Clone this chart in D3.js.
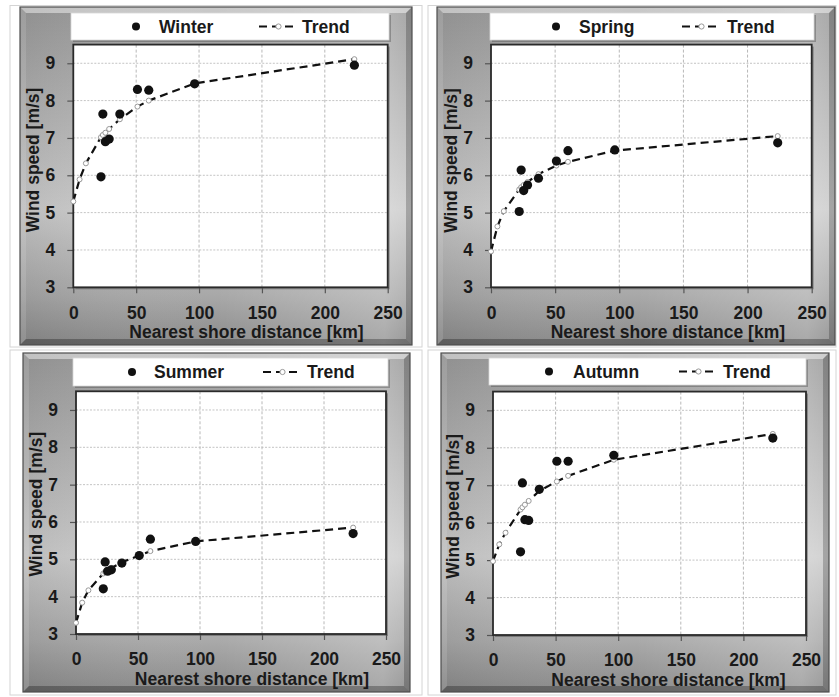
<!DOCTYPE html>
<html><head><meta charset="utf-8">
<script src="https://cdn.jsdelivr.net/npm/d3@7"></script>
<style>
html,body{margin:0;padding:0;background:#fff;}
svg{display:block;}
text{font-family:"Liberation Sans",Arial,sans-serif;font-weight:bold;fill:#1a1a1a;}
</style></head>
<body>
<svg id="chart" width="839" height="697"></svg>
<script>
// ---- data ----
const seasons = ["Winter", "Spring", "Summer", "Autumn"];
const stationKm = [22, 23.5, 25.5, 28.5, 37, 51, 60, 96.5, 223.5];
const winterObs = [5.96, 7.64, 6.90, 6.97, 7.64, 8.30, 8.28, 8.45, 8.95];
const springObs = [5.03, 6.14, 5.59, 5.74, 5.92, 6.38, 6.66, 6.68, 6.87];
const summerObs = [4.21, 4.93, 4.68, 4.72, 4.90, 5.10, 5.54, 5.48, 5.69];
const autumnObs = [5.22, 7.06, 6.08, 6.06, 6.89, 7.64, 7.64, 7.80, 8.26];
const trendKm = [0, 5, 10, 22, 23.5, 25.5, 28.5, 37, 51, 60, 96.5, 223.5];
const winterTrend = [5.30, 5.89, 6.32, 7.02, 7.08, 7.14, 7.24, 7.50, 7.84, 8.00, 8.46, 9.11];
const springTrend = [3.96, 4.63, 5.04, 5.62, 5.68, 5.74, 5.82, 6.03, 6.26, 6.36, 6.66, 7.05];
const summerTrend = [3.30, 3.84, 4.17, 4.62, 4.66, 4.71, 4.77, 4.92, 5.10, 5.22, 5.48, 5.85];
const autumnTrend = [4.97, 5.42, 5.73, 6.35, 6.41, 6.48, 6.58, 6.85, 7.10, 7.25, 7.68, 8.37];
const xTicks = [0, 50, 100, 150, 200, 250];
const yTicks = [3, 4, 5, 6, 7, 8, 9];
const xLabel = "Nearest shore distance [km]";
const yLabel = "Wind speed [m/s]";
const trendLabel = "Trend";

const obsBySeason = [winterObs, springObs, summerObs, autumnObs];
const trendBySeason = [winterTrend, springTrend, summerTrend, autumnTrend];

// ---- layout ----
const cells = [
  {x: 10, y: 5.5, w: 412, h: 341.5},
  {x: 428, y: 5.5, w: 408, h: 341.5},
  {x: 10, y: 350, w: 412, h: 345},
  {x: 428, y: 350, w: 408, h: 345}
];
const frames = [
  {x: 20, y: 7, w: 392, h: 338},
  {x: 437, y: 7, w: 398, h: 338},
  {x: 23, y: 353, w: 387, h: 339},
  {x: 441, y: 353, w: 388, h: 339}
];
const plots = [
  {x: 73.3, y: 44.6, w: 314.4, h: 242.7, tx: 16, ty: -6},
  {x: 491, y: 44.6, w: 320.7, h: 242.7, tx: 16.5, ty: -5.5},
  {x: 76, y: 391.3, w: 310, h: 242.7, tx: 21, ty: -8.5},
  {x: 493, y: 391.6, w: 313, h: 243.4, tx: 19, ty: -7}
];
const legends = [
  {x: 71, y: 13, w: 318, h: 27, dot: 65, txt: 88, dash: 188, trend: 231},
  {x: 490, y: 13, w: 324, h: 27, dot: 66, txt: 89, dash: 192, trend: 237},
  {x: 73, y: 358, w: 315, h: 28, dot: 59, txt: 81, dash: 190, trend: 234},
  {x: 489, y: 358, w: 317, h: 27, dot: 60, txt: 84, dash: 190, trend: 234}
];

const svg = d3.select("#chart");
const defs = svg.append("defs");
const g1 = defs.append("linearGradient").attr("id", "frameGrad").attr("x1", 0).attr("y1", 0).attr("x2", 0).attr("y2", 1);
[[0, "#9b9b9b"], [0.3, "#b4b4b4"], [0.6, "#cdcdcd"], [0.85, "#a9a9a9"], [1, "#8a8a8a"]]
  .forEach(([o, c]) => g1.append("stop").attr("offset", o).attr("stop-color", c));
const g2 = defs.append("linearGradient").attr("id", "frameGradH").attr("x1", 0).attr("y1", 0).attr("x2", 1).attr("y2", 0);
[[0, "rgba(0,0,0,0.08)"], [0.5, "rgba(255,255,255,0)"], [0.93, "rgba(255,255,255,0.25)"], [1, "rgba(255,255,255,0.1)"]]
  .forEach(([o, c]) => g2.append("stop").attr("offset", o).attr("stop-color", c));

// table cell borders
cells.forEach(c => {
  svg.append("rect").attr("x", c.x).attr("y", c.y).attr("width", c.w).attr("height", c.h)
    .attr("fill", "none").attr("stroke", "#d4d4d4").attr("stroke-width", 1);
});

seasons.forEach((season, i) => {
  const f = frames[i], p = plots[i], L = legends[i];
  const g = svg.append("g");

  // frame
  g.append("rect").attr("x", f.x).attr("y", f.y).attr("width", f.w).attr("height", f.h)
    .attr("fill", "url(#frameGrad)");
  g.append("rect").attr("x", f.x).attr("y", f.y).attr("width", f.w).attr("height", f.h)
    .attr("fill", "url(#frameGradH)");
  const b = 6;
  const x0 = f.x, y0 = f.y, x1 = f.x + f.w, y1 = f.y + f.h;
  const bevel = [
    {pts: [[x0, y0], [x1, y0], [x1 - b, y0 + b], [x0 + b, y0 + b]], fill: "rgba(255,255,255,0.45)"},
    {pts: [[x0, y0], [x0 + b, y0 + b], [x0 + b, y1 - b], [x0, y1]], fill: "rgba(255,255,255,0.12)"},
    {pts: [[x1, y0], [x1, y1], [x1 - b, y1 - b], [x1 - b, y0 + b]], fill: "rgba(0,0,0,0.22)"},
    {pts: [[x0, y1], [x0 + b, y1 - b], [x1 - b, y1 - b], [x1, y1]], fill: "rgba(0,0,0,0.28)"}
  ];
  bevel.forEach(bv => g.append("polygon").attr("points", bv.pts.map(d => d.join(",")).join(" ")).attr("fill", bv.fill));
  g.append("rect").attr("x", f.x).attr("y", f.y).attr("width", f.w).attr("height", f.h)
    .attr("fill", "none").attr("stroke", "#4d4d4d").attr("stroke-width", 1.2);

  // legend box
  g.append("rect").attr("x", L.x + 2).attr("y", L.y + 2).attr("width", L.w).attr("height", L.h)
    .attr("fill", "rgba(60,60,60,0.35)");
  g.append("rect").attr("x", L.x).attr("y", L.y).attr("width", L.w).attr("height", L.h)
    .attr("fill", "#fff").attr("stroke", "#d8d8d8").attr("stroke-width", 0.8);
  const ly = L.y + L.h / 2;
  g.append("circle").attr("cx", L.x + L.dot).attr("cy", ly).attr("r", 4).attr("fill", "#111");
  g.append("text").attr("x", L.x + L.txt).attr("y", ly).attr("dominant-baseline", "central")
    .attr("font-size", 17.5).text(season);
  g.append("line").attr("x1", L.x + L.dash).attr("x2", L.x + L.dash + 39).attr("y1", ly).attr("y2", ly)
    .attr("stroke", "#111").attr("stroke-width", 2.2).attr("stroke-dasharray", "8,5");
  g.append("circle").attr("cx", L.x + L.dash + 19.5).attr("cy", ly).attr("r", 2.6)
    .attr("fill", "#fff").attr("stroke", "#999").attr("stroke-width", 1);
  g.append("text").attr("x", L.x + L.trend).attr("y", ly).attr("dominant-baseline", "central")
    .attr("font-size", 17.5).text(trendLabel);

  // scales
  const x = d3.scaleLinear().domain([0, 250]).range([p.x, p.x + p.w]);
  const y = d3.scaleLinear().domain([3, 9.5]).range([p.y + p.h, p.y]);

  // plot area
  g.append("rect").attr("x", p.x + 2).attr("y", p.y + 2).attr("width", p.w).attr("height", p.h)
    .attr("fill", "rgba(40,40,40,0.35)");
  g.append("rect").attr("x", p.x).attr("y", p.y).attr("width", p.w).attr("height", p.h).attr("fill", "#fff");

  // grid
  g.append("g").selectAll("line").data(yTicks.filter(t => t > 3)).join("line")
    .attr("x1", p.x).attr("x2", p.x + p.w).attr("y1", d => y(d)).attr("y2", d => y(d))
    .attr("stroke", "#c4c4c4").attr("stroke-width", 1).attr("stroke-dasharray", "2,1.5");
  g.append("g").selectAll("line").data(xTicks.filter(t => t > 0 && t < 250)).join("line")
    .attr("x1", d => x(d)).attr("x2", d => x(d)).attr("y1", p.y).attr("y2", p.y + p.h)
    .attr("stroke", "#b8b8b8").attr("stroke-width", 1).attr("stroke-dasharray", "3,2");

  // axes
  const xAxis = d3.axisBottom(x).tickValues(xTicks).tickSize(6).tickPadding(13).tickFormat(d3.format("d"));
  const yAxis = d3.axisLeft(y).tickValues(yTicks).tickSize(6).tickPadding(12).tickFormat(d3.format("d"));
  const gx = g.append("g").attr("transform", `translate(0,${p.y + p.h})`).call(xAxis);
  const gy = g.append("g").attr("transform", `translate(${p.x},0)`).call(yAxis);
  [gx, gy].forEach(ax => {
    ax.select(".domain").remove();
    ax.selectAll(".tick line").attr("stroke", "#555").attr("stroke-width", 1.2);
    ax.selectAll(".tick text").attr("font-size", 17.5).attr("fill", "#1a1a1a")
      .style("font-family", '"Liberation Sans",Arial,sans-serif').style("font-weight", "bold");
  });
  gx.selectAll(".tick text").attr("dy", "0.71em");

  // plot border
  g.append("rect").attr("x", p.x).attr("y", p.y).attr("width", p.w).attr("height", p.h)
    .attr("fill", "none").attr("stroke", "#2a2a2a").attr("stroke-width", 1.8);

  // axis titles
  g.append("text").attr("x", p.x + p.w / 2 + p.tx).attr("y", p.y + p.h + 45).attr("text-anchor", "middle")
    .attr("dominant-baseline", "central").attr("font-size", 17.5).text(xLabel);
  g.append("text").attr("transform", `translate(${p.x - 40},${p.y + p.h / 2 + p.ty}) rotate(-90)`)
    .attr("text-anchor", "middle").attr("dominant-baseline", "central").attr("font-size", 17.5).text(yLabel);

  // trend line
  const trend = trendKm.map((k, j) => [k, trendBySeason[i][j]]);
  const line = d3.line().x(d => x(d[0])).y(d => y(d[1])).curve(d3.curveLinear);
  g.append("path").datum(trend).attr("d", line).attr("fill", "none")
    .attr("stroke", "#111").attr("stroke-width", 2.2).attr("stroke-dasharray", "8,5");
  g.append("g").selectAll("circle").data(trend).join("circle")
    .attr("cx", d => x(d[0])).attr("cy", d => y(d[1])).attr("r", 2.5)
    .attr("fill", "#fff").attr("stroke", "#999").attr("stroke-width", 1);

  // observations
  const obs = stationKm.map((k, j) => [k, obsBySeason[i][j]]);
  g.append("g").selectAll("circle").data(obs).join("circle")
    .attr("cx", d => x(d[0])).attr("cy", d => y(d[1])).attr("r", 4.6).attr("fill", "#111");
});
</script>
</body></html>
